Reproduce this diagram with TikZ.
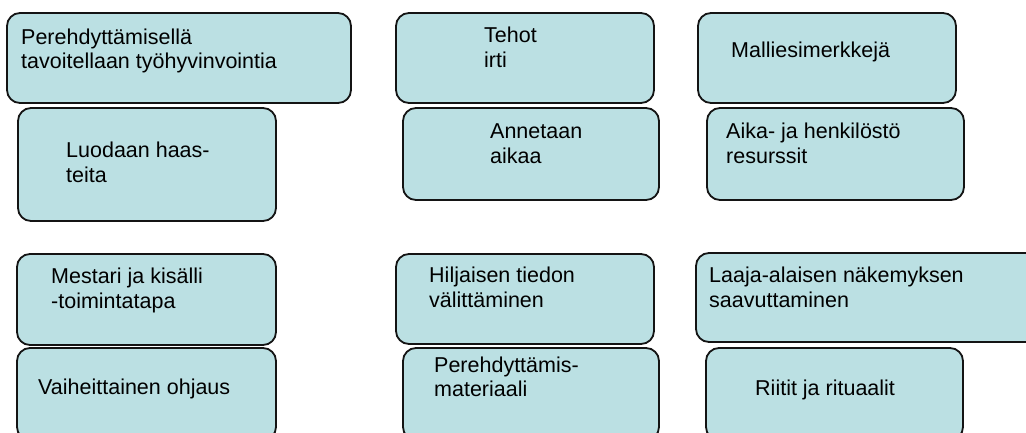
\documentclass[tikz,border=0pt]{standalone}
\usepackage{fontspec}
\setmainfont{Liberation Sans}
\definecolor{boxfill}{RGB}{187,224,227}
\definecolor{boxline}{RGB}{20,20,20}
\tikzset{
  card/.style={draw=boxline, fill=boxfill, line width=1.8pt, rounded corners=13pt, inner sep=0pt},
  lbl/.style={anchor=north west, inner sep=0pt, align=left, font=\fontsize{21.5}{24.3}\selectfont}
}
\begin{document}
\begin{tikzpicture}[x=1pt,y=-1pt]
\useasboundingbox (0,0) rectangle (1026,432);
\clip (0,0) rectangle (1026,432);
% boxes
\node[card, minimum width=344pt, minimum height=90pt] (b1) at (179,58) {};
\node[card, minimum width=258pt, minimum height=113pt] (b2) at (147,164.5) {};
\node[card, minimum width=258pt, minimum height=90pt] (b3) at (525,58) {};
\node[card, minimum width=256pt, minimum height=92pt] (b4) at (531,154) {};
\node[card, minimum width=258pt, minimum height=90pt] (b5) at (827,58) {};
\node[card, minimum width=257pt, minimum height=92pt] (b6) at (835.5,154) {};
\node[card, minimum width=259pt, minimum height=91pt] (b7) at (146.5,299.5) {};
\node[card, minimum width=259pt, minimum height=92pt] (b8) at (146.5,394) {};
\node[card, minimum width=258pt, minimum height=90pt] (b9) at (525,299) {};
\node[card, minimum width=256pt, minimum height=92pt] (b10) at (531,394) {};
\node[card, minimum width=344pt, minimum height=89pt] (b11) at (868,297.5) {};
\node[card, minimum width=257pt, minimum height=92pt] (b12) at (834.5,394) {};
% texts
\node[lbl] (t1) at (21,27) {\strut Perehdyttämisellä\\tavoitellaan työhyvinvointia};
\node[lbl] (t2) at (66,140.5) {\strut Luodaan haas-\\teita};
\node[lbl] (t3) at (484,25.5) {\strut Tehot\\irti};
\node[lbl] (t4) at (490,121.5) {\strut Annetaan\\aikaa};
\node[lbl] (t5) at (731,40.5) {\strut Malliesimerkkejä};
\node[lbl] (t6) at (726,121.5) {\strut Aika- ja henkilöstö\\resurssit};
\node[lbl] (t7) at (51,266.5) {\strut Mestari ja kisälli\\-toimintatapa};
\node[lbl] (t8) at (38,377) {\strut Vaiheittainen ohjaus};
\node[lbl] (t9) at (429,265.5) {\strut Hiljaisen tiedon\\välittäminen};
\node[lbl] (t10) at (434,355) {\strut Perehdyttämis-\\materiaali};
\node[lbl] (t11) at (709,265.5) {\strut Laaja-alaisen näkemyksen\\saavuttaminen};
\node[lbl] (t12) at (755,378) {\strut Riitit ja rituaalit};
\end{tikzpicture}
\end{document}
